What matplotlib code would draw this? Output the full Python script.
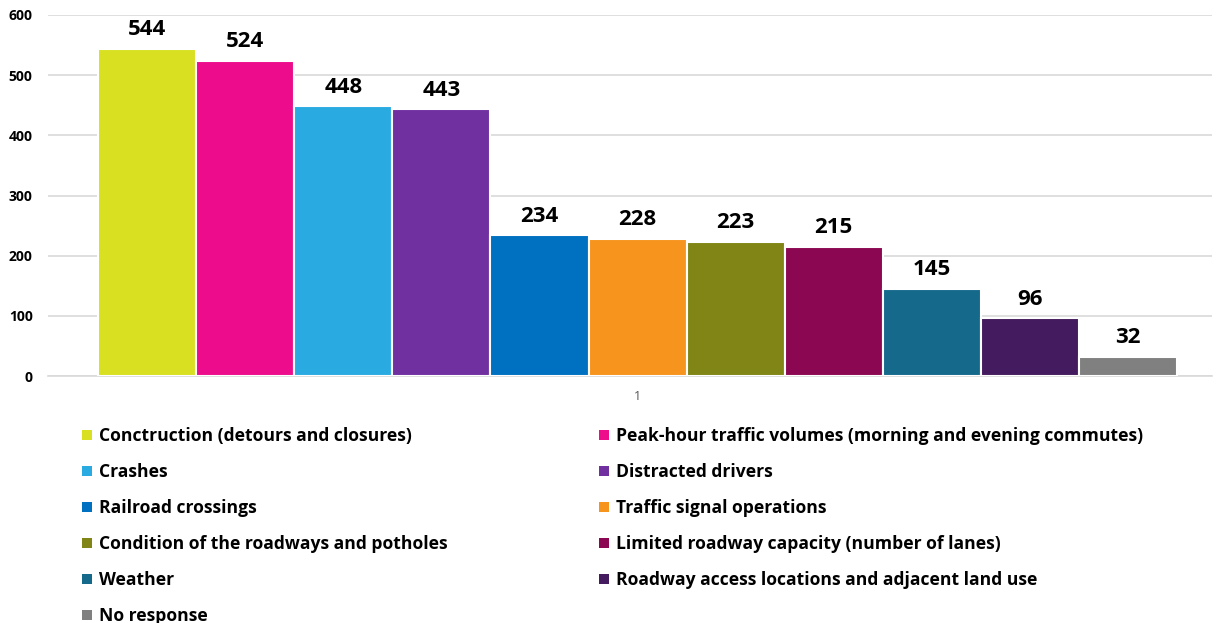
import numpy as np
import matplotlib.pyplot as plt
from matplotlib.patches import Patch

categories = [
    'Conctruction (detours and closures)',
    'Peak-hour traffic volumes (morning and evening commutes)',
    'Crashes',
    'Distracted drivers',
    'Railroad crossings',
    'Traffic signal operations',
    'Condition of the roadways and potholes',
    'Limited roadway capacity (number of lanes)',
    'Weather',
    'Roadway access locations and adjacent land use',
    'No response',
]
values = [544, 524, 448, 443, 234, 228, 223, 215, 145, 96, 32]
colors = ['#d9e021', '#ec0c8c', '#29abe2', '#7030a0', '#0070c0', '#f7941d',
          '#808515', '#8c0751', '#156a8b', '#441b5e', '#808080']
group_label = '1'

plt.rcParams['font.family'] = ['Open Sans', 'DejaVu Sans']

W, H = 1224, 623
fig = plt.figure(figsize=(W / 100, H / 100), dpi=100)
ax = fig.add_axes([48 / W, 1 - 376 / H, (1212 - 48) / W, (376 - 15) / H])

x = np.arange(len(values))
bars = ax.bar(x, values, width=1.0, color=colors, edgecolor='white', linewidth=1.5, zorder=3)
for xi, v in zip(x, values):
    ax.annotate(str(v), (xi, v), xytext=(0, 6), textcoords='offset points',
                ha='center', va='bottom', fontsize=16, fontweight='bold', color='black')

ax.set_xlim(-1.01, -1.01 + 1164 / 98.1)
ax.set_ylim(0, 600)
ax.set_yticks(range(0, 601, 100))
ax.set_xticks([(len(values) - 1) / 2])
ax.set_xticklabels([group_label], color='#595959', fontsize=9)
ax.tick_params(axis='x', length=0, pad=10)
ax.tick_params(axis='y', length=0, pad=11, labelsize=10)
for t in ax.get_yticklabels():
    t.set_fontweight('bold')
ax.grid(axis='y', color='#d9d9d9', linewidth=1.2, zorder=0)
for s in ['top', 'right', 'left']:
    ax.spines[s].set_visible(False)
ax.spines['bottom'].set_color('#d9d9d9')
ax.spines['bottom'].set_linewidth(1.2)

handles = [Patch(facecolor=c, edgecolor='none') for c in colors]
left = [i for i in range(len(values)) if i % 2 == 0]
right = [i for i in range(len(values)) if i % 2 == 1]
common = dict(frameon=False, handlelength=0.55, handleheight=0.55, handletextpad=0.4,
              labelspacing=1.03, borderaxespad=0, borderpad=0,
              prop={'weight': 'bold', 'size': 12.6})
leg1 = fig.legend([handles[i] for i in left], [categories[i] for i in left],
                  loc='upper left', bbox_to_anchor=(82 / W, 1 - 427 / H), **common)
leg2 = fig.legend([handles[i] for i in right], [categories[i] for i in right],
                  loc='upper left', bbox_to_anchor=(599 / W, 1 - 427 / H), **common)

fig.savefig('out.png', dpi=100)
